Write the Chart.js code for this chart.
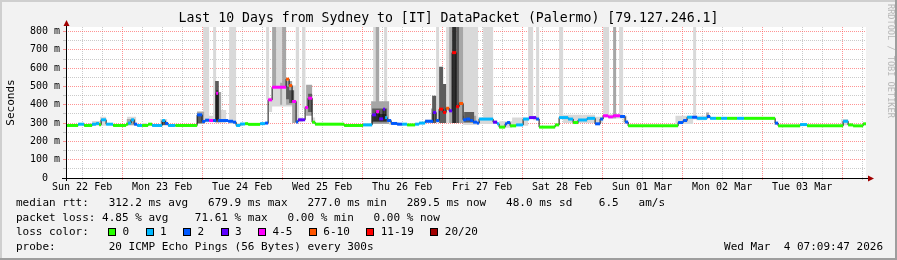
<!DOCTYPE html>
<html><head><meta charset="utf-8">
<script src="https://cdn.jsdelivr.net/npm/chart.js@4/dist/chart.umd.min.js"></script>
<style>html,body{margin:0;padding:0;background:#f2f2f2;overflow:hidden}canvas{display:block}</style>
</head><body>
<canvas id="c" width="897" height="260" style="width:897px;height:260px"></canvas>
<script>
// ---- text ----
const titleText = 'Last 10 Days from Sydney to [IT] DataPacket (Palermo) [79.127.246.1]';
const yTitle = 'Seconds';
const dayLabels = ['Sun 22 Feb','Mon 23 Feb','Tue 24 Feb','Wed 25 Feb','Thu 26 Feb','Fri 27 Feb','Sat 28 Feb','Sun 01 Mar','Mon 02 Mar','Tue 03 Mar'];
const yTickValues = [0,50,100,150,200,250,300,350,400,450,500,550,600,650,700,750,800];
const statRows = [
  'median rtt:   312.2 ms avg   679.9 ms max   277.0 ms min   289.5 ms now   48.0 ms sd    6.5   am/s',
  'packet loss: 4.85 % avg    71.61 % max   0.00 % min   0.00 % now'
];
const lossTitle = 'loss color:';
const lossLabels = ['0','1','2','3','4-5','6-10','11-19','20/20'];
const lossColors = ['#26ff00','#00b8ff','#0059ff','#5e00ff','#ff00ff','#ff5500','#ff0000','#a10000'];
const probeRow = 'probe:        20 ICMP Echo Pings (56 Bytes) every 300s';
const dateText = 'Wed Mar  4 07:09:47 2026';
const watermark = 'RRDTOOL / TOBI OETIKER';

// ---- time window (hours since Sun 22 Feb 00:00) ----
const xStart = 7.163, xEnd = 247.163;

// ---- median rtt (ms): step start hour, value, loss-colour index ----
const medT = [7.16,10.8,12.6,15.0,16.2,17.1,17.7,19.2,21.3,25.2,
  25.8,26.7,27.6,28.5,30.0,31.8,33.0,36.0,36.9,37.8,
  40.0,46.5,48.0,48.9,50.1,51.3,52.2,52.8,55.8,57.3,
  58.2,59.4,60.9,61.8,65.4,66.9,67.8,69.0,73.2,74.1,
  75.0,76.2,76.8,78.9,79.8,81.0,81.9,90.6,96.3,99.0,
  100.2,101.1,102.3,102.9,103.5,104.7,106.5,108.0,109.5,111.9,
  113.1,114.9,117.3,118.2,119.1,120.3,121.2,122.1,123.0,124.2,
  125.1,126.3,127.2,128.4,129.3,130.5,131.1,135.3,136.5,137.1,
  138.9,139.5,140.4,142.2,144.3,146.1,148.2,149.1,153.9,155.1,
  157.8,159.3,160.8,163.5,165.9,167.4,168.3,169.8,171.3,173.4,
  174.9,175.8,190.8,192.3,193.5,195.0,196.5,199.5,200.4,202.2,
  203.7,205.5,208.5,210.6,219.9,220.8,227.4,229.5,240.3,241.8,
  243.3,246.3];
const medV = [287,294,287,294,298,291,318,294,287,294,
  300,318,294,287,287,294,287,314,298,287,
  287,345,309,316,314,314,463,314,310,305,
  287,295,297,293,297,300,427,496,540,505,
  418,306,318,385,436,305,294,287,290,345,
  363,323,376,330,314,298,294,294,290,294,
  300,310,358,314,376,358,381,367,685,390,
  407,318,322,314,305,300,322,305,296,278,
  296,303,285,290,322,330,322,278,290,330,
  322,303,317,326,296,322,340,334,340,336,
  306,285,303,314,332,332,326,336,326,326,
  326,326,326,326,300,285,292,285,310,290,
  285,296];
const medL = [0,1,0,1,1,0,1,1,0,0,
  1,1,2,1,0,0,1,1,2,1,
  0,2,2,2,4,2,4,2,2,2,
  1,1,0,0,1,2,4,4,5,5,
  4,2,3,4,4,0,0,0,1,3,
  4,3,3,1,2,2,2,1,0,1,
  1,2,3,2,6,6,5,3,6,6,
  5,2,2,2,2,2,1,3,1,0,
  2,2,0,1,1,3,2,0,0,1,
  1,0,1,1,2,2,4,4,4,2,
  2,0,2,2,1,2,1,2,1,0,
  1,0,1,0,2,0,1,0,1,0,
  0,0];

// ---- smoke bands: [start hour, end hour, low ms, high ms] ----
const smokeLight = [
  [15.0,17.4,285,312],[17.4,19.2,285,335],[25.5,28.2,285,335],[30.0,31.5,285,300],[35.4,37.5,285,322],
  [46.5,48.3,300,365],[48.3,50.1,305,900],[50.1,51.3,305,340],[51.3,52.2,305,900],[52.8,55.2,300,372],
  [56.1,58.2,295,900],[58.2,60.0,283,300],[67.2,68.1,427,900],[68.1,69.0,360,440],[69.0,70.2,390,505],
  [70.2,72.0,390,900],[72.0,76.1,390,505],[76.1,77.1,305,900],[77.1,78.0,305,330],[78.0,79.0,380,900],
  [81.0,81.9,295,330],[96.3,99.0,285,300],[99.3,101.1,420,900],[102.6,103.5,380,900],[104.1,107.0,290,305],
  [114.9,117.3,300,320],[118.2,119.1,300,900],[121.2,122.1,300,900],[126.3,130.8,290,900],[130.8,132.3,295,330],
  [132.3,135.3,295,900],[135.3,136.5,295,315],[137.1,141.0,275,310],[141.0,145.8,285,330],[145.8,147.3,330,900],
  [147.3,148.2,315,340],[148.2,149.1,320,900],[155.1,156.3,330,900],[156.3,165.9,300,345],[165.9,168.3,300,335],
  [168.3,170.1,330,900],[170.1,171.3,325,348],[172.2,173.1,325,348],[173.1,174.3,325,900],[174.3,175.5,300,340],
  [190.0,195.3,295,340],[195.3,196.2,320,900],[196.2,199.2,315,340],[219.6,220.5,290,305],[239.7,241.8,288,322]
];
const smokeMid = [
  [14.1,15.9,287,298],[25.4,27.9,290,322],[46.5,48.6,295,362],[52.0,53.7,305,470],[69.0,70.2,495,900],
  [71.4,72.0,400,520],[72.0,73.2,500,900],[73.2,75.0,400,530],[75.0,76.2,300,425],[79.2,81.0,340,510],
  [98.7,100.1,295,420],[100.1,101.1,295,900],[101.1,104.1,295,420],[116.7,118.2,300,380],[122.1,123.0,300,900],
  [125.1,126.3,300,900],[126.3,130.2,300,340],[171.3,172.2,325,900],[199.2,200.1,326,358]
];
const smokeDark = [
  [35.9,37.2,290,312],[46.5,48.0,300,350],[51.9,53.0,305,530],[73.2,74.1,430,500],[74.1,75.6,410,480],
  [79.8,81.0,360,460],[99.0,103.5,305,380],[117.0,118.2,300,450],[119.1,120.3,300,608],[120.3,121.2,300,513],
  [124.2,125.1,300,900],[126.6,129.6,305,360]
];
const smokeCore = [
  [52.2,52.8,320,480],[99.3,103.2,310,350],[123.0,124.2,300,900]
];

// ---- styles ----
const FONT = '"DejaVu Sans Mono", monospace';
const GRID_MIN = 'rgba(140,140,140,0.45)';
const GRID_MAJ = 'rgba(255,60,60,0.55)';

function bandSets(list, color, order) {
  const base = 300;
  const lo = [{x: xStart, y: base}], hi = [{x: xStart, y: base}];
  list.forEach(b => {
    lo.push({x: b[0], y: base}, {x: b[0], y: b[2]}, {x: b[1], y: b[2]}, {x: b[1], y: base});
    hi.push({x: b[0], y: base}, {x: b[0], y: b[3]}, {x: b[1], y: b[3]}, {x: b[1], y: base});
  });
  lo.push({x: xEnd, y: base}); hi.push({x: xEnd, y: base});
  return [
    {data: lo, borderWidth: 0, borderColor: 'rgba(0,0,0,0)', pointRadius: 0, fill: false, order: order, tension: 0},
    {data: hi, borderWidth: 0, borderColor: 'rgba(0,0,0,0)', pointRadius: 0, fill: '-1', backgroundColor: color, order: order, tension: 0}
  ];
}

const medPts = medT.map((t, i) => ({x: t, y: medV[i]}));
medPts.push({x: xEnd, y: medV[medV.length - 1]});
const stripPts = [];
medT.forEach((t, i) => {
  const t2 = i + 1 < medT.length ? medT[i + 1] : xEnd;
  stripPts.push({x: t, y: medV[i]}, {x: t2, y: medV[i]});
});

const datasets = [
  ...bandSets(smokeLight, '#d9d9d9', 40),
  ...bandSets(smokeMid, '#a6a6a6', 30),
  ...bandSets(smokeDark, '#5c5c5c', 20),
  ...bandSets(smokeCore, '#2c2c2c', 10),
  {data: medPts, stepped: true, borderColor: '#111', borderWidth: 1, pointRadius: 0, fill: false, order: 2},
  {data: stripPts, borderWidth: 3, pointRadius: 0, fill: false, order: 1, borderCapStyle: 'butt',
    segment: {borderColor: c => c.p0.parsed.x === c.p1.parsed.x ? 'rgba(0,0,0,0)' : lossColors[medL[Math.floor(c.p0DataIndex / 2)]]}}
];

const deco = {
  id: 'deco',
  beforeDraw(chart) {
    const ctx = chart.ctx, a = chart.chartArea, W = chart.width, H = chart.height;
    ctx.save();
    ctx.fillStyle = '#f2f2f2'; ctx.fillRect(0, 0, W, H);
    ctx.fillStyle = '#cfcfcf'; ctx.fillRect(0, 0, W, 2); ctx.fillRect(0, 0, 2, H);
    ctx.fillStyle = '#9e9e9e'; ctx.fillRect(0, H - 2, W, 2); ctx.fillRect(W - 2, 0, 2, H);
    ctx.fillStyle = '#fff'; ctx.fillRect(a.left, a.top, a.right - a.left, a.bottom - a.top);
    ctx.restore();
  },
  afterDraw(chart) {
    const ctx = chart.ctx, a = chart.chartArea, W = chart.width;
    ctx.save();
    // axes
    ctx.strokeStyle = '#000'; ctx.lineWidth = 1;
    ctx.beginPath();
    ctx.moveTo(a.left - 4, a.bottom + 0.5); ctx.lineTo(a.right + 3, a.bottom + 0.5);
    ctx.moveTo(a.left + 0.5, a.bottom + 3); ctx.lineTo(a.left + 0.5, a.top - 3);
    ctx.stroke();
    ctx.fillStyle = '#a00000';
    ctx.beginPath(); ctx.moveTo(a.left + 0.5, a.top - 7); ctx.lineTo(a.left - 2.5, a.top - 1); ctx.lineTo(a.left + 3.5, a.top - 1); ctx.closePath(); ctx.fill();
    ctx.beginPath(); ctx.moveTo(a.right + 8, a.bottom + 0.5); ctx.lineTo(a.right + 2, a.bottom - 2.5); ctx.lineTo(a.right + 2, a.bottom + 3.5); ctx.closePath(); ctx.fill();
    // title
    ctx.fillStyle = '#000'; ctx.textBaseline = 'middle';
    ctx.font = '13.2px ' + FONT; ctx.textAlign = 'center';
    ctx.fillText(titleText, W / 2, 19);
    // y title
    ctx.save(); ctx.translate(11, 102.5); ctx.rotate(-Math.PI / 2);
    ctx.font = '11px ' + FONT; ctx.fillText(yTitle, 0, 0); ctx.restore();
    // watermark
    ctx.save(); ctx.translate(890, 4); ctx.rotate(Math.PI / 2);
    ctx.textAlign = 'left'; ctx.fillStyle = '#b8b8b8'; ctx.font = '8.6px ' + FONT;
    ctx.fillText(watermark, 0, 0); ctx.restore();
    // legend
    ctx.font = '11px ' + FONT; ctx.textAlign = 'left'; ctx.fillStyle = '#000';
    ctx.fillText(statRows[0], 16, 203.5);
    ctx.fillText(statRows[1], 16, 218);
    ctx.fillText(lossTitle, 16, 232.5);
    let bx = 108;
    lossLabels.forEach((lab, i) => {
      const x = Math.round(bx);
      ctx.fillStyle = lossColors[i]; ctx.fillRect(x, 228, 8, 8);
      ctx.strokeStyle = '#000'; ctx.lineWidth = 1; ctx.strokeRect(x + 0.5, 228.5, 7, 7);
      ctx.fillStyle = '#000';
      const lx = bx + 14.5;
      ctx.fillText(lab, lx, 232.5);
      bx = lx + ctx.measureText(lab).width + 16.4;
    });
    ctx.fillText(probeRow, 16, 247);
    ctx.textAlign = 'right'; ctx.fillText(dateText, 883, 247);
    ctx.restore();
  }
};

new Chart(document.getElementById('c'), {
  type: 'line',
  data: {datasets},
  plugins: [deco],
  options: {
    responsive: false, animation: false, devicePixelRatio: 1,
    layout: {padding: {top: 27, right: 31, left: 0, bottom: 0}},
    plugins: {legend: {display: false}, tooltip: {enabled: false}, title: {display: false}},
    elements: {point: {radius: 0}, line: {tension: 0}},
    scales: {
      x: {
        type: 'linear', min: xStart, max: xEnd,
        afterFit: s => { s.height = 82; },
        afterBuildTicks: s => {
          const t = [];
          dayLabels.forEach((d, i) => { [0, 6, 12, 18].forEach(h => { const v = 24 * i + h; if (v >= xStart && v <= xEnd) t.push({value: v}); }); });
          [240, 246].forEach(v => t.push({value: v}));
          s.ticks = t;
        },
        ticks: {autoSkip: false, maxRotation: 0, padding: 1, color: '#000', font: {family: FONT, size: 10},
          callback: v => (v % 24 === 12 && dayLabels[(v - 12) / 24]) ? dayLabels[(v - 12) / 24] : ''},
        grid: {color: c => (c.tick && c.tick.value % 24 === 0) ? GRID_MAJ : GRID_MIN, tickLength: 2, lineWidth: 1},
        border: {display: false, dash: [1, 1]}
      },
      y: {
        type: 'linear', min: 0, max: 825,
        afterFit: s => { s.width = 66; },
        afterBuildTicks: s => { s.ticks = yTickValues.map(v => ({value: v})); },
        ticks: {autoSkip: false, padding: 3, color: '#000', font: {family: FONT, size: 10},
          callback: v => v % 100 !== 0 ? '' : (v === 0 ? '0  ' : v + ' m')},
        grid: {color: c => (c.tick && c.tick.value % 100 === 0) ? GRID_MAJ : GRID_MIN, tickLength: 3, lineWidth: 1},
        border: {display: false, dash: [1, 1]}
      }
    }
  }
});
</script>
</body></html>
